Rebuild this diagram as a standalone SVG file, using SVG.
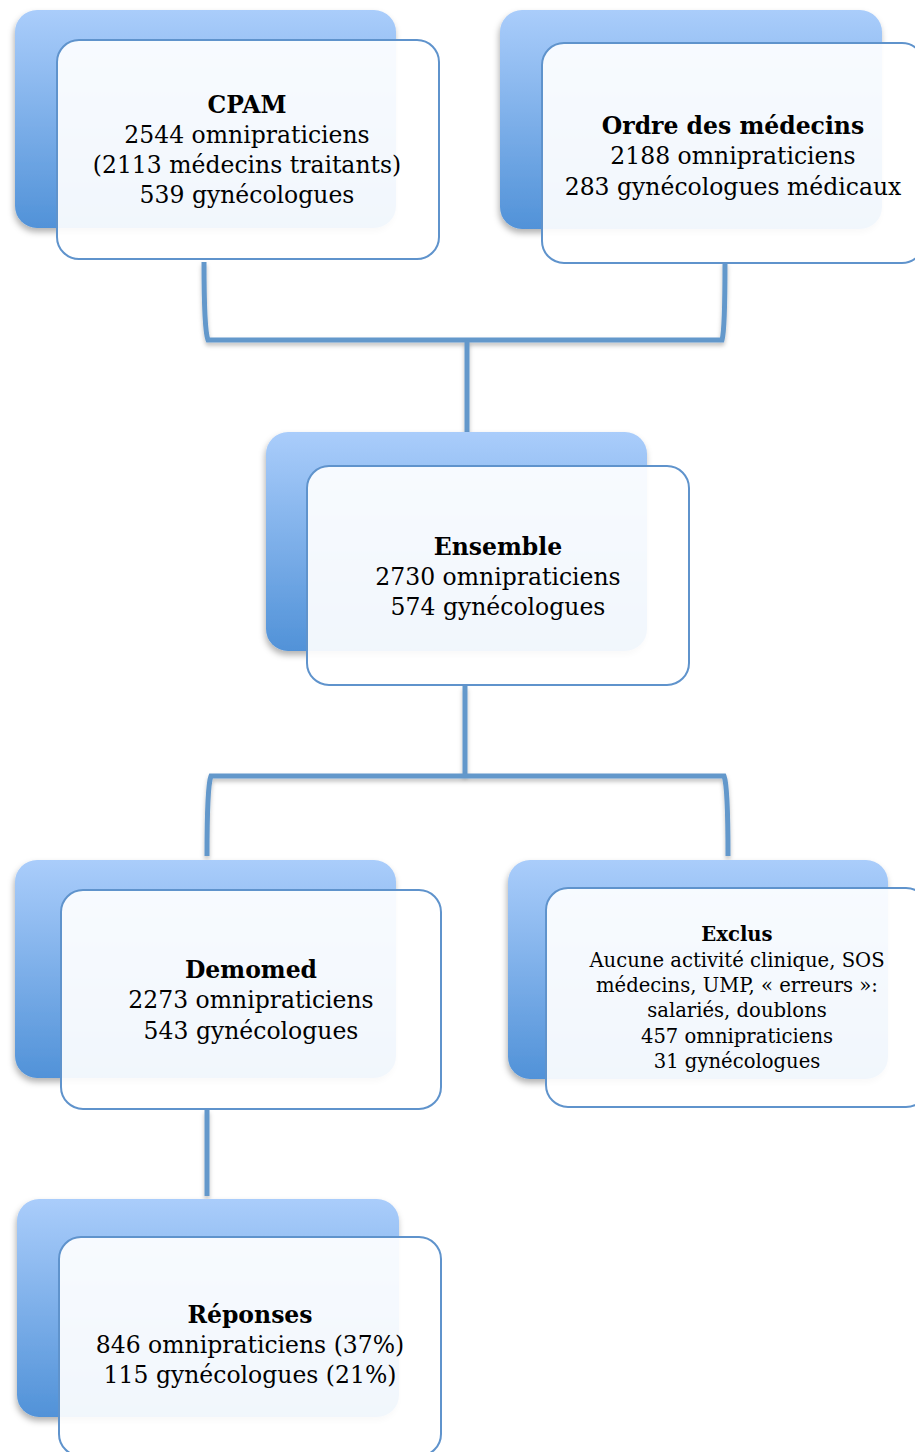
<svg xmlns="http://www.w3.org/2000/svg" width="915" height="1452" viewBox="0 0 915 1452">
<style>
.back{fill:url(#g);filter:url(#sh)}
.front{fill:#ffffff;fill-opacity:0.92;stroke:#5f93cc;stroke-width:2}
.conn{fill:none;stroke:#6498cb;stroke-width:5;filter:url(#lsh)}
text{font-family:"DejaVu Serif","Liberation Serif",serif;fill:#000;text-anchor:middle}
.t{font-size:23.5px}
.b{font-weight:bold}
.s{font-size:19.6px}
</style>
<defs>
<linearGradient id="g" x1="0" y1="0" x2="0" y2="1">
<stop offset="0" stop-color="#aacdfb"/>
<stop offset="1" stop-color="#5192d8"/>
</linearGradient>
<filter id="sh" x="-10%" y="-10%" width="120%" height="125%">
<feDropShadow dx="-1" dy="4" stdDeviation="3" flood-color="#000" flood-opacity="0.3"/>
</filter>
<filter id="lsh" filterUnits="userSpaceOnUse" x="0" y="0" width="915" height="1452">
<feDropShadow dx="0" dy="3" stdDeviation="2" flood-color="#000" flood-opacity="0.25"/>
</filter>
</defs>
<g id="connectors">
<path class="conn" d="M204,262 Q204,330 208,340 L722,340 Q725,330 725,262"/>
<path class="conn" d="M467,341 L467,432"/>
<path class="conn" d="M465,686 L465,776"/>
<path class="conn" d="M207,856 Q207,786 211,776 L724,776 Q728,786 728,856"/>
<path class="conn" d="M207,1110 L207,1196"/>
</g>
<g id="cpam">
<rect class="back" x="15" y="10" width="381" height="218" rx="22"/>
<rect class="front" x="57" y="40" width="382" height="219" rx="22"/>
<text class="t b" x="247" y="113">CPAM</text>
<text class="t" x="247" y="143">2544 omnipraticiens</text>
<text class="t" x="247" y="173">(2113 médecins traitants)</text>
<text class="t" x="247" y="203">539 gynécologues</text>
</g>
<g id="ordre">
<rect class="back" x="500" y="10" width="382" height="219" rx="22"/>
<rect class="front" x="542" y="43" width="382" height="220" rx="22"/>
<text class="t b" x="733" y="134">Ordre des médecins</text>
<text class="t" x="733" y="164">2188 omnipraticiens</text>
<text class="t" x="733" y="195">283 gynécologues médicaux</text>
</g>
<g id="ensemble">
<rect class="back" x="266" y="432" width="381" height="219" rx="22"/>
<rect class="front" x="307" y="466" width="382" height="219" rx="22"/>
<text class="t b" x="498" y="555">Ensemble</text>
<text class="t" x="498" y="585">2730 omnipraticiens</text>
<text class="t" x="498" y="615">574 gynécologues</text>
</g>
<g id="demomed">
<rect class="back" x="15" y="860" width="381" height="218" rx="22"/>
<rect class="front" x="61" y="890" width="380" height="219" rx="22"/>
<text class="t b" x="251" y="978">Demomed</text>
<text class="t" x="251" y="1008">2273 omnipraticiens</text>
<text class="t" x="251" y="1039">543 gynécologues</text>
</g>
<g id="exclus">
<rect class="back" x="508" y="860" width="380" height="219" rx="22"/>
<rect class="front" x="546" y="888" width="382" height="219" rx="22"/>
<text class="s b" x="737" y="941">Exclus</text>
<text class="s" x="737" y="967">Aucune activité clinique, SOS</text>
<text class="s" x="737" y="992">médecins, UMP, « erreurs »:</text>
<text class="s" x="737" y="1017">salariés, doublons</text>
<text class="s" x="737" y="1043">457 omnipraticiens</text>
<text class="s" x="737" y="1068">31 gynécologues</text>
</g>
<g id="reponses">
<rect class="back" x="17" y="1199" width="382" height="218" rx="22"/>
<rect class="front" x="59" y="1237" width="382" height="219" rx="22"/>
<text class="t b" x="250" y="1323">Réponses</text>
<text class="t" x="250" y="1353">846 omnipraticiens (37%)</text>
<text class="t" x="250" y="1383">115 gynécologues (21%)</text>
</g>
</svg>
